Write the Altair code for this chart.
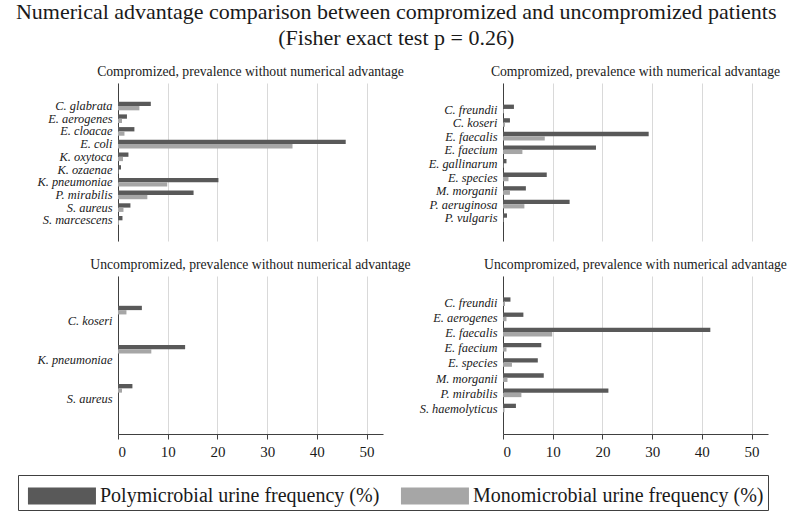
import altair as alt
import pandas as pd

SERIES = ["Polymicrobial urine frequency (%)", "Monomicrobial urine frequency (%)"]
COLORS = ["#595959", "#a6a6a6"]

# Compromized, prevalence without numerical advantage
tl_species = ["C. glabrata", "E. aerogenes", "E. cloacae", "E. coli", "K. oxytoca",
              "K. ozaenae", "K. pneumoniae", "P. mirabilis", "S. aureus", "S. marcescens"]
tl_poly = [6.6, 1.8, 3.3, 45.8, 2.1, 0.6, 20.2, 15.2, 2.5, 0.9]
tl_mono = [4.3, 0.8, 1.3, 35.1, 1.0, 0.1, 9.9, 5.9, 1.1, 0.2]

# Compromized, prevalence with numerical advantage
tr_species = ["C. freundii", "C. koseri", "E. faecalis", "E. faecium", "E. gallinarum",
              "E. species", "M. morganii", "P. aeruginosa", "P. vulgaris"]
tr_poly = [2.2, 1.4, 29.3, 18.7, 0.7, 8.8, 4.6, 13.4, 0.8]
tr_mono = [0.2, 0.4, 8.4, 3.9, 0.1, 1.1, 1.4, 4.3, 0.1]

# Uncompromized, prevalence without numerical advantage
bl_species = ["C. koseri", "K. pneumoniae", "S. aureus"]
bl_poly = [4.8, 13.5, 2.9]
bl_mono = [1.7, 6.7, 0.8]

# Uncompromized, prevalence with numerical advantage
br_species = ["C. freundii", "E. aerogenes", "E. faecalis", "E. faecium", "E. species",
              "M. morganii", "P. mirabilis", "S. haemolyticus"]
br_poly = [1.5, 4.1, 41.7, 7.7, 7.0, 8.2, 21.2, 2.6]
br_mono = [0.4, 0.7, 9.9, 0.7, 1.8, 0.9, 3.7, 0.3]

X_TICKS = [0, 10, 20, 30, 40, 50]
FONT = "Liberation Serif"


def make_df(species, poly, mono):
    rows = []
    for s, p, m in zip(species, poly, mono):
        rows.append({"species": s, "series": SERIES[0], "value": p})
        rows.append({"species": s, "series": SERIES[1], "value": m})
    return pd.DataFrame(rows)


def panel(species, poly, mono, title, bottom, pin, pout, align, spacer):
    df = make_df(species, poly, mono)
    domain = ([" "] + species + ["  "]) if spacer else species
    if bottom:
        x_axis = alt.Axis(values=X_TICKS, grid=True, gridColor="#d9d9d9", domain=True,
                          domainColor="#404040", ticks=True, tickColor="#404040", tickSize=5,
                          labelFont=FONT, labelFontSize=15, labelColor="#1a1a1a",
                          labelPadding=5, title=None)
    else:
        x_axis = alt.Axis(values=X_TICKS, grid=True, gridColor="#d9d9d9", domain=False,
                          ticks=False, labels=False, title=None, minExtent=0, maxExtent=0)
    return alt.Chart(df).mark_bar().encode(
        x=alt.X("value:Q", scale=alt.Scale(domain=[0, 53.3], nice=False, zero=True), axis=x_axis),
        y=alt.Y("species:N",
                scale=alt.Scale(domain=domain, paddingInner=pin, paddingOuter=pout, align=align),
                axis=alt.Axis(values=species, title=None, ticks=False, domain=True,
                              domainColor="#404040",
                              labelFont=FONT, labelFontStyle="italic", labelFontSize=12.4,
                              labelColor="#1a1a1a", labelPadding=6, grid=False)),
        yOffset=alt.YOffset("series:N", sort=SERIES,
                            scale=alt.Scale(paddingInner=0, paddingOuter=0)),
        color=alt.Color("series:N", sort=SERIES,
                        scale=alt.Scale(domain=SERIES, range=COLORS),
                        legend=alt.Legend(
                            title=None, orient="none", legendX=-100, legendY=392,
                            direction="horizontal",
                            symbolType="M-0.65,-0.5H3.35V0.5H-0.65Z",
                            symbolSize=1156, symbolStrokeWidth=0,
                            labelFont=FONT, labelFontSize=20, labelColor="#1a1a1a",
                            labelOffset=44, labelLimit=500, columnPadding=15,
                            strokeColor="#404040", padding=4)),
    ).properties(
        width=265, height=158,
        title=alt.TitleParams(title, font=FONT, fontSize=13.7, fontWeight="normal",
                              color="#1a1a1a", anchor="middle", offset=4),
    )


tl = panel(tl_species, tl_poly, tl_mono,
           "Compromized, prevalence without numerical advantage", False, 0.32, 0.38, 0.62, True)
tr = panel(tr_species, tr_poly, tr_mono,
           "Compromized, prevalence with numerical advantage", False, 0.26, 0.44, 0.67, True)
bl = panel(bl_species, bl_poly, bl_mono,
           "Uncompromized, prevalence without numerical advantage", True, 0.23, 0.635, 0.6, False)
br = panel(br_species, br_poly, br_mono,
           "Uncompromized, prevalence with numerical advantage", True, 0.3, 0.35, 0.58, True)

chart = alt.vconcat(
    alt.hconcat(tl, tr, spacing=120, bounds="flush"),
    alt.hconcat(bl, br, spacing=120, bounds="flush"),
    spacing=17,
).properties(
    title=alt.TitleParams(
        ["Numerical advantage comparison between compromized and uncompromized patients",
         "(Fisher exact test p = 0.26)"],
        font=FONT, fontSize=22, fontWeight="normal", color="#1a1a1a",
        anchor="middle", lineHeight=26, offset=15, dx=-6),
    padding={"left": 15, "top": 1, "right": 5, "bottom": 1},
    background="white",
).configure_view(stroke=None)

chart.save("out.html", embed_options={"renderer": "svg", "actions": False})
